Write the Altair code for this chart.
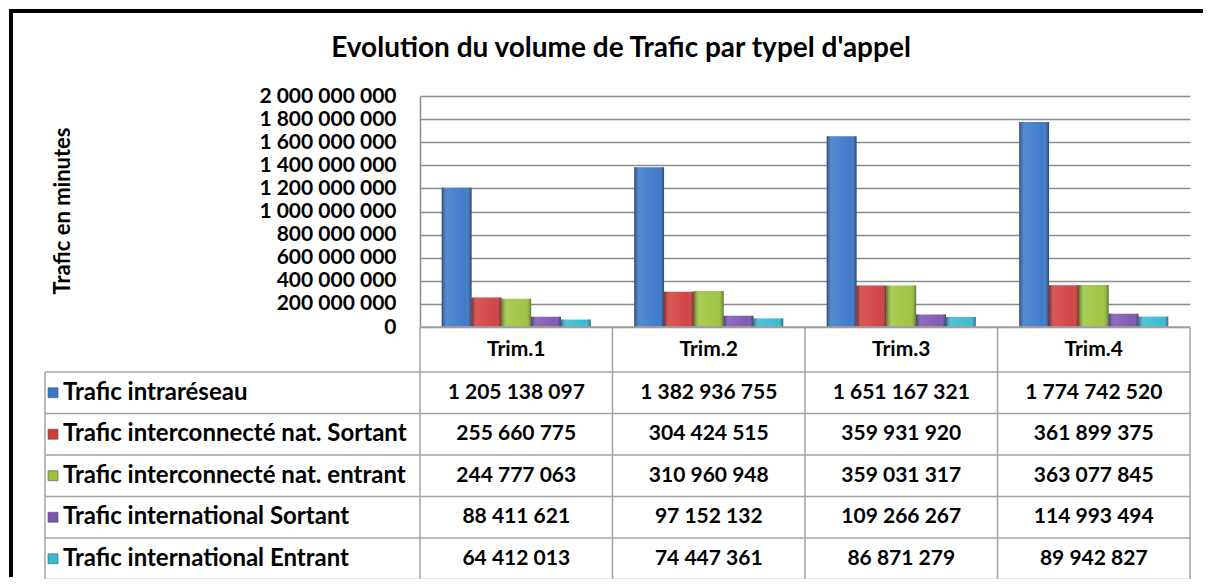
import altair as alt
import pandas as pd

# ---------------- data ----------------
quarters = ["Trim.1", "Trim.2", "Trim.3", "Trim.4"]
series = [
    "Trafic intraréseau",
    "Trafic interconnecté nat. Sortant",
    "Trafic interconnecté nat. entrant",
    "Trafic international Sortant",
    "Trafic international Entrant",
]
colors = ["#3a76c9", "#d13d3d", "#9cc23d", "#7c55b1", "#36b9d3"]

v_intra = [1205138097, 1382936755, 1651167321, 1774742520]
v_ic_sortant = [255660775, 304424515, 359931920, 361899375]
v_ic_entrant = [244777063, 310960948, 359031317, 363077845]
v_int_sortant = [88411621, 97152132, 109266267, 114993494]
v_int_entrant = [64412013, 74447361, 86871279, 89942827]
values_by_series = [v_intra, v_ic_sortant, v_ic_entrant, v_int_sortant, v_int_entrant]

y_ticks = [0, 200000000, 400000000, 600000000, 800000000, 1000000000,
           1200000000, 1400000000, 1600000000, 1800000000, 2000000000]

title_text = "Evolution du volume de Trafic par typel d'appel"
y_title = "Trafic en minutes"

# ---------------- layout constants ----------------
W, H = 770, 231
PAD = {"left": 412, "top": 88, "right": 15, "bottom": 252}
LABEL_COL = 375
COL = W / len(quarters)
LABEL_LEFT = -LABEL_COL / COL
TABLE_Y_RANGE = [H, H + 45, H + 45 + 5 * 41.5]
FONT = "Lato"

rows = []
for si, (s, vals) in enumerate(zip(series, values_by_series)):
    for qi, (q, v) in enumerate(zip(quarters, vals)):
        rows.append(dict(series=s, si=si, quarter=q, qi=qi, value=v,
                         label=f"{v:,}".replace(",", " "),
                         xc=qi + 0.5, yc=si + 1.5))
df = pd.DataFrame(rows)

head_df = pd.DataFrame({"quarter": quarters,
                        "xc": [i + 0.5 for i in range(len(quarters))],
                        "yc": [0.5] * len(quarters)})
lab_df = pd.DataFrame({"series": series,
                       "yc": [i + 1.5 for i in range(len(series))]})

nrows = len(series) + 1
segs = []
segs.append(dict(x=0, x2=len(quarters), y=0, y2=0))
for r in range(1, nrows + 1):
    segs.append(dict(x=LABEL_LEFT, x2=len(quarters), y=r, y2=r))
segs.append(dict(x=LABEL_LEFT, x2=LABEL_LEFT, y=1, y2=nrows))
for c in range(len(quarters) + 1):
    segs.append(dict(x=c, x2=c, y=0, y2=nrows))
seg_df = pd.DataFrame(segs)

one = pd.DataFrame({"a": [0]})

# ---------------- scales ----------------
x_band = alt.Scale(domain=quarters, paddingInner=0.226, paddingOuter=0.113)
x_off = alt.Scale(domain=series, paddingInner=0, paddingOuter=0)
y_val = alt.Scale(domain=[0, 2000000000])
col_scale = alt.Scale(domain=[0, len(quarters)], range=[0, W])
row_scale = alt.Scale(domain=[0, 1, nrows], range=TABLE_Y_RANGE)
color_scale = alt.Scale(domain=series, range=colors)

label_expr = "replace(format(datum.value, ','), regexp(',', 'g'), ' ')"

# ---------------- layers ----------------
# outer chart frame (only left and top edges are visible in the reference)
frame_left = alt.Chart(one).mark_rect(color="black").encode(
    x=alt.value(-PAD["left"] + 1), x2=alt.value(-PAD["left"] + 5),
    y=alt.value(-PAD["top"] + 1), y2=alt.value(H + PAD["bottom"] - 2))
frame_top = alt.Chart(one).mark_rect(color="black").encode(
    x=alt.value(-PAD["left"] + 1), x2=alt.value(W + PAD["right"] - 2),
    y=alt.value(-PAD["top"] + 1), y2=alt.value(-PAD["top"] + 5))

title = alt.Chart(one).mark_text(
    text=title_text, font=FONT, fontSize=28, fontWeight="bold", color="black",
    align="center", baseline="middle").encode(x=alt.value(201), y=alt.value(-47))

bars = alt.Chart(df).mark_bar().encode(
    x=alt.X("quarter:N", scale=x_band, axis=None),
    xOffset=alt.XOffset("series:N", scale=x_off),
    y=alt.Y("value:Q", scale=y_val,
            axis=alt.Axis(values=y_ticks, labelExpr=label_expr, labelFont=FONT,
                          labelFontSize=21, labelFontWeight="bold", labelColor="black",
                          labelPadding=24, ticks=False, tickSize=0, labelOverlap=False,
                          domain=True, domainColor="#8a8a8a", domainWidth=1.5,
                          grid=True, gridColor="#8c8c8c", gridWidth=1.3,
                          title=y_title, titleFont=FONT, titleFontSize=22,
                          titleFontWeight="bold", titleColor="black",
                          titleX=-358, titleY=H / 2 - 1, titleAngle=270,
                          titleBaseline="middle", titleAlign="center")),
    color=alt.Color("series:N", scale=color_scale, legend=None),
)

bevel = alt.Gradient(
    gradient="linear", x1=0, x2=1, y1=0, y2=0,
    stops=[alt.GradientStop(color="rgba(0,0,0,0.40)", offset=0),
           alt.GradientStop(color="rgba(255,255,255,0.14)", offset=0.18),
           alt.GradientStop(color="rgba(255,255,255,0.04)", offset=0.8),
           alt.GradientStop(color="rgba(0,0,0,0.40)", offset=1)])

bars_shade = alt.Chart(df).mark_bar(color=bevel).encode(
    x=alt.X("quarter:N", scale=x_band, axis=None),
    xOffset=alt.XOffset("series:N", scale=x_off),
    y=alt.Y("value:Q", scale=y_val, axis=None),
)

table_lines = alt.Chart(seg_df).mark_rule(color="#a3a3a3", strokeWidth=1.5).encode(
    x=alt.X("x:Q", scale=col_scale, axis=None), x2="x2:Q",
    y=alt.Y("y:Q", scale=row_scale, axis=None), y2="y2:Q")

header = alt.Chart(head_df).mark_text(
    font=FONT, fontSize=21, fontWeight="bold", color="black",
    align="center", baseline="middle").encode(
    x=alt.X("xc:Q", scale=col_scale, axis=None),
    y=alt.Y("yc:Q", scale=row_scale, axis=None),
    text="quarter:N")

cells = alt.Chart(df).mark_text(
    font=FONT, fontSize=21, fontWeight="bold", color="black",
    align="center", baseline="middle").encode(
    x=alt.X("xc:Q", scale=col_scale, axis=None),
    y=alt.Y("yc:Q", scale=row_scale, axis=None),
    text="label:N")

row_labels = alt.Chart(lab_df).mark_text(
    font=FONT, fontSize=24, fontWeight="bold", color="black",
    align="left", baseline="middle").encode(
    x=alt.value(-357),
    y=alt.Y("yc:Q", scale=row_scale, axis=None),
    text="series:N")

keys = alt.Chart(lab_df).mark_square(size=100, opacity=1, stroke="#555555", strokeWidth=0.6).encode(
    x=alt.value(-367),
    y=alt.Y("yc:Q", scale=row_scale, axis=None),
    color=alt.Color("series:N", scale=color_scale, legend=None))

chart = alt.layer(
    frame_left, frame_top, title, bars, bars_shade, table_lines, header, cells,
    row_labels, keys
).resolve_scale(
    x="independent", y="independent"
).properties(
    width=W, height=H,
    padding=PAD,
    autosize=alt.AutoSizeParams(type="none"),
    background="white",
).configure_view(strokeWidth=0)

chart.save("out.html", embed_options={"renderer": "svg", "actions": False})
